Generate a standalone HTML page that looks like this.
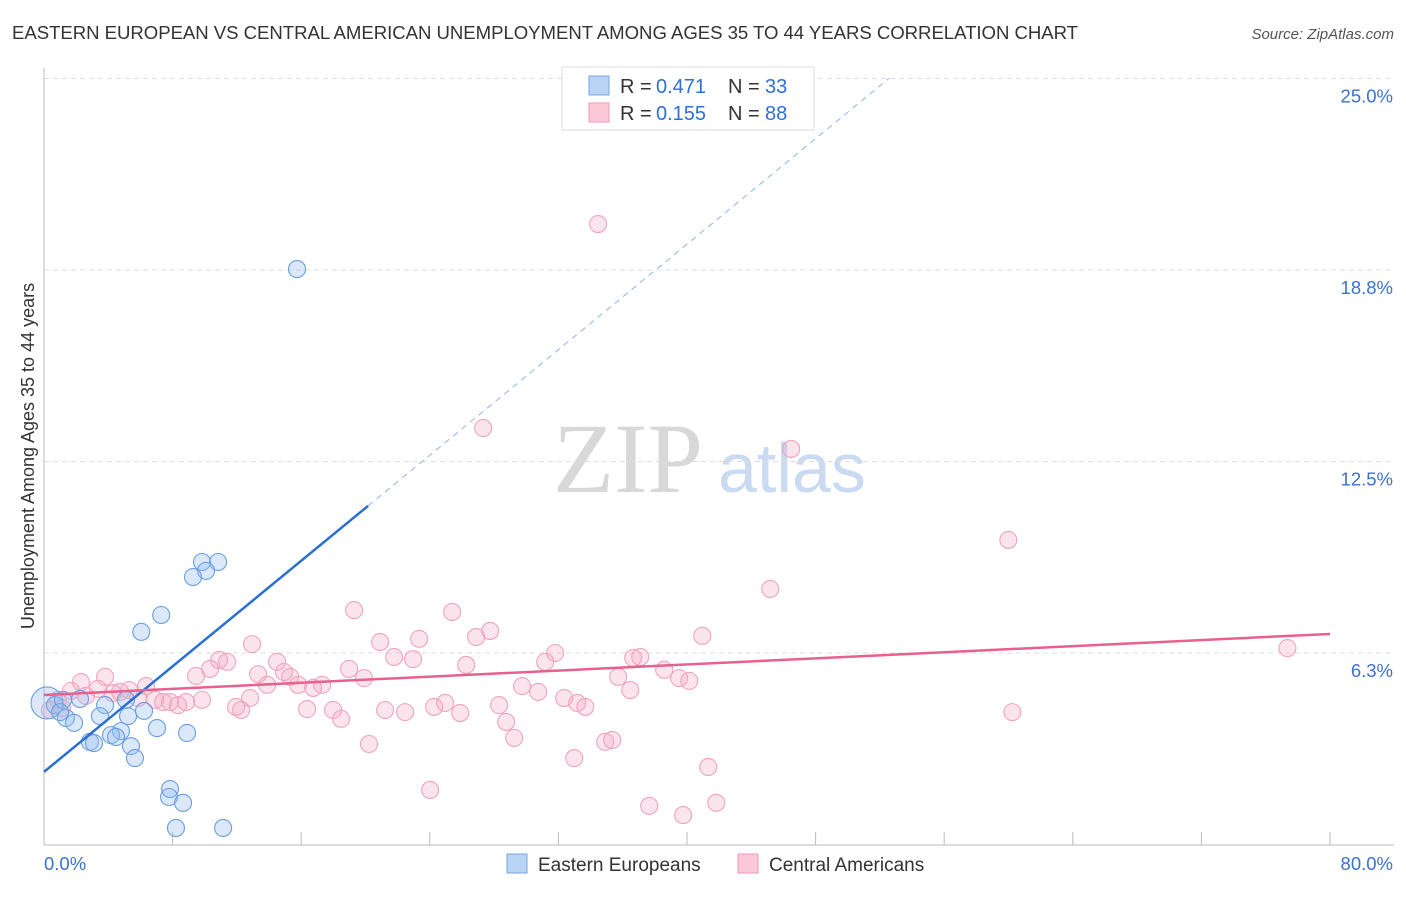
<!DOCTYPE html>
<html><head><meta charset="utf-8"><style>
body{margin:0;background:#fff;font-family:"Liberation Sans",sans-serif;}
svg text{font-family:"Liberation Sans",sans-serif;}
</style></head><body>
<svg id="chart" width="1406" height="892" xmlns="http://www.w3.org/2000/svg">
<text x="12" y="39" font-size="18.6" fill="#333" textLength="1066">EASTERN EUROPEAN VS CENTRAL AMERICAN UNEMPLOYMENT AMONG AGES 35 TO 44 YEARS CORRELATION CHART</text>
<text x="1394" y="39" font-size="15" fill="#555" text-anchor="end" font-style="italic">Source: ZipAtlas.com</text>
<text x="553" y="492" font-size="100" fill="#d8d8d8" style="font-family:'Liberation Serif',serif">ZIP</text>
<text x="718" y="492" font-size="70" fill="#c9daf2">atlas</text>
<text transform="translate(34,456) rotate(-90)" font-size="18" fill="#333" text-anchor="middle">Unemployment Among Ages 35 to 44 years</text>
<g id="grid"></g><g id="axes"></g><g id="pts"></g><g id="lines"></g>
<g>
<rect x="562" y="67" width="252" height="63" fill="#fff" stroke="#ddd"/>
<rect x="589" y="76" width="20" height="19" fill="#b8d3f3" stroke="#7aa7e0"/>
<rect x="589" y="103" width="20" height="19" fill="#fbc8d7" stroke="#ef9ab4"/>
<text x="620" y="93" font-size="20" fill="#333">R =</text><text x="656" y="93" font-size="20" fill="#2f6fd6">0.471</text>
<text x="728" y="93" font-size="20" fill="#333">N =</text><text x="765" y="93" font-size="20" fill="#2f6fd6">33</text>
<text x="620" y="120" font-size="20" fill="#333">R =</text><text x="656" y="120" font-size="20" fill="#2f6fd6">0.155</text>
<text x="728" y="120" font-size="20" fill="#333">N =</text><text x="765" y="120" font-size="20" fill="#2f6fd6">88</text>
</g>
<g>
<rect x="507" y="854" width="20" height="19" fill="#b8d3f3" stroke="#7aa7e0"/>
<text x="538" y="871" font-size="19" fill="#333">Eastern Europeans</text>
<rect x="738" y="854" width="20" height="19" fill="#fbc8d7" stroke="#ef9ab4"/>
<text x="769" y="871" font-size="19" fill="#333">Central Americans</text>
</g>
</svg>
<script>
const yTicks=[25,18.8,12.5,6.3];
const yTickVals=[25,18.75,12.5,6.25];
const xTickVals=[0,8,16,24,32,40,48,56,64,72,80];
const blueX=[15.74,9.83,10.83,10.08,9.27,7.29,6.05,0.19,0.68,1.18,2.24,3.80,5.10,6.22,1.37,1.87,3.48,5.23,7.03,8.90,4.79,4.17,2.86,3.11,4.48,5.41,5.66,7.84,7.78,8.65,8.21,11.14,1.00];
const blueY=[18.78,9.22,9.22,8.93,8.73,7.49,6.94,4.62,4.55,4.72,4.75,4.55,4.72,4.36,4.13,3.97,4.19,4.19,3.80,3.64,3.70,3.57,3.35,3.31,3.51,3.21,2.82,1.81,1.55,1.36,0.54,0.54,4.32];
const pinkX=[34.47,27.32,46.48,59.99,45.18,19.29,25.39,27.75,26.88,40.95,20.91,23.34,12.94,77.35,31.80,21.78,22.96,10.89,11.39,14.50,10.33,31.18,36.65,37.09,26.26,18.98,38.58,14.93,13.32,9.46,35.72,19.91,39.51,40.14,15.31,3.80,2.30,15.81,17.30,16.74,13.88,6.35,29.74,1.68,3.36,5.29,4.73,4.29,5.85,30.74,36.47,6.91,7.41,8.34,8.84,9.83,2.61,0.87,32.36,33.17,33.67,24.95,28.31,24.27,17.98,16.37,21.22,22.46,25.89,11.95,12.26,60.24,18.48,28.75,29.25,34.91,35.35,20.22,32.98,41.32,24.02,41.82,37.65,39.76,0.37,1.12,7.84,12.82];
const pinkY=[20.25,13.59,12.91,9.94,8.34,7.65,7.59,6.97,6.77,6.81,6.61,6.71,6.54,6.41,6.25,6.12,6.05,6.02,5.96,5.96,5.73,5.96,6.09,6.12,5.86,5.73,5.70,5.63,5.56,5.50,5.47,5.43,5.43,5.34,5.47,5.47,5.30,5.21,5.21,5.11,5.21,5.17,5.17,5.01,5.08,5.04,4.98,4.94,4.78,4.98,5.04,4.72,4.65,4.55,4.65,4.72,4.85,4.72,4.78,4.62,4.49,4.62,4.55,4.49,4.39,4.42,4.39,4.32,4.29,4.49,4.39,4.32,4.10,4.00,3.48,3.35,3.41,3.28,2.82,2.53,1.78,1.36,1.26,0.96,4.39,4.45,4.65,4.78];
const blueTrend=[2.37,0.4306];
const pinkTrend=[4.88,0.0249];
const NS="http://www.w3.org/2000/svg";
function sx(v){return 44+v*16.075;}
function sy(v){return 844.5-v*30.64;}
function mk(t,a,p){const e=document.createElementNS(NS,t);for(const k in a)e.setAttribute(k,a[k]);document.getElementById(p).appendChild(e);return e;}
yTickVals.forEach((v,i)=>{
 const g=mk('line',{x1:44,x2:1394,y1:sy(v),y2:sy(v),stroke:'#ddd','stroke-dasharray':'5,4'},'grid');
 
 
 const t=mk('text',{x:1393,y:sy(v)+24,'font-size':18.5,fill:'#3a72d0','text-anchor':'end'},'grid');
 t.textContent=yTicks[i].toFixed(1)+'%';
 
 
});
const ya=mk('line',{x1:44,x2:44,y1:68,y2:845,stroke:'#bbb'},'axes');


const xa=mk('line',{x1:44,x2:1394,y1:845,y2:845,stroke:'#bbb'},'axes');


xTickVals.forEach(v=>{
 const l=mk('line',{x1:sx(v),x2:sx(v),y1:832,y2:845,stroke:'#bbb'},'axes');
 
 
});
const x0=mk('text',{x:44,y:870,'font-size':18.5,fill:'#3a72d0'},'axes');x0.textContent='0.0%';


const x1=mk('text',{x:1393,y:870,'font-size':18.5,fill:'#3a72d0','text-anchor':'end'},'axes');x1.textContent='80.0%';


pinkX.forEach((v,i)=>{
 const c=mk('circle',{cx:sx(v),cy:sy(pinkY[i]),r:8.5,fill:'rgba(246,170,195,0.32)',stroke:'#f0a3bc','stroke-width':1.1},'pts');
 
 
});
blueX.forEach((v,i)=>{
 const c=mk('circle',{cx:sx(v),cy:sy(blueY[i]),r:i===7?16:8.5,fill:'rgba(150,190,240,0.35)',stroke:'#6a9ee0','stroke-width':1.1},'pts');
 
 
});
const bEnd=20.16, bDash=(25-blueTrend[0])/blueTrend[1];
const bl=mk('line',{x1:sx(0),y1:sy(blueTrend[0]),x2:sx(bEnd),y2:sy(blueTrend[0]+blueTrend[1]*bEnd),stroke:'#2a6fd4','stroke-width':2.5},'lines');


const bd=mk('line',{x1:sx(bEnd),y1:sy(blueTrend[0]+blueTrend[1]*bEnd),x2:sx(bDash),y2:sy(25),stroke:'#8fb3e6','stroke-width':1,'stroke-dasharray':'6,5'},'lines');


const pl=mk('line',{x1:sx(0),y1:sy(pinkTrend[0]),x2:sx(80),y2:sy(pinkTrend[0]+pinkTrend[1]*80),stroke:'#e8608c','stroke-width':2.5},'lines');


</script>
</body></html>
